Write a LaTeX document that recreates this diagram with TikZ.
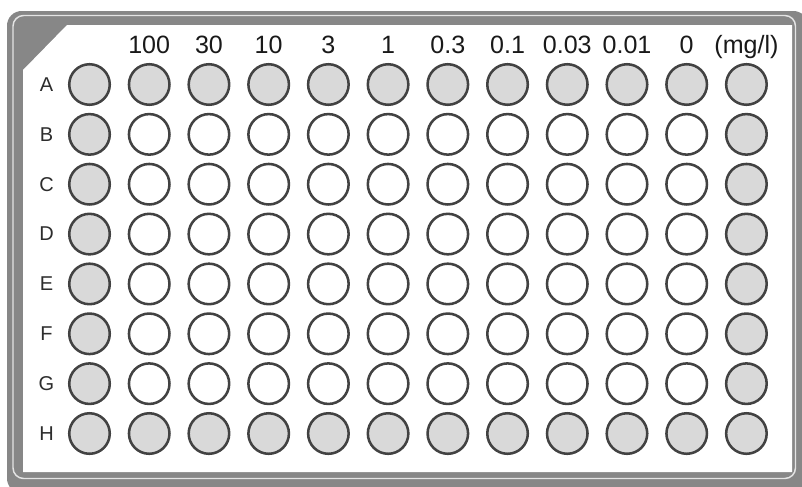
\documentclass[tikz,border=0pt]{standalone}
\usepackage{fontspec}
\setmainfont{Liberation Sans}
\definecolor{band}{RGB}{135,135,135}
\definecolor{bandline}{RGB}{228,228,228}
\definecolor{wellfill}{RGB}{217,217,217}
\definecolor{wellline}{RGB}{66,66,66}
\definecolor{lettercol}{RGB}{45,45,45}
\begin{document}
\begin{tikzpicture}[x=0.75pt,y=-0.75pt,
  well/.style={circle, draw=wellline, line width=1.9pt, minimum size=30.4pt, inner sep=0pt},
  rowlabel/.style={text=lettercol, font=\fontsize{15pt}{17pt}\selectfont, inner sep=0pt},
  collabel/.style={text=black!90, font=\fontsize{18.8pt}{21pt}\selectfont, inner sep=0pt, anchor=base}]
\useasboundingbox (0,0) rectangle (802,486);
\fill[white] (0,0) rectangle (802,486);
\begin{scope}
  \clip (0,0) rectangle (802,486);
  \fill[band, rounded corners=11pt] (7,11) rectangle (808,493);
  \draw[bandline, line width=1.1pt, rounded corners=8pt] (13,15.5) rectangle (795.5,478.5);
\end{scope}
\fill[white] (23,70) -- (67,25) -- (792,25) -- (792,472) -- (23,472) -- cycle;
\foreach \r [count=\i from 0] in {A,B,C,D,E,F,G,H} {
  \node[rowlabel] (l\r) at (46.5, {84.5+49.86*\i}) {\r};
  \foreach \c in {1,...,12} {
    \pgfmathtruncatemacro{\sh}{or(or(\i==0,\i==7),or(\c==1,\c==12))}
    \ifnum\sh=1 \def\wf{wellfill}\else\def\wf{white}\fi
    \node[well, fill=\wf] (\r\c) at ({89.5+59.72*(\c-1)}, {84.5+49.86*\i}) {};
  }
}
\foreach \t [count=\k from 2] in {100,30,10,3,1,0.3,0.1,0.03,0.01,0,(mg/l)} {
  \node[collabel] (h\k) at ({89.5+59.72*(\k-1)}, 53) {\t};
}
\end{tikzpicture}
\end{document}
